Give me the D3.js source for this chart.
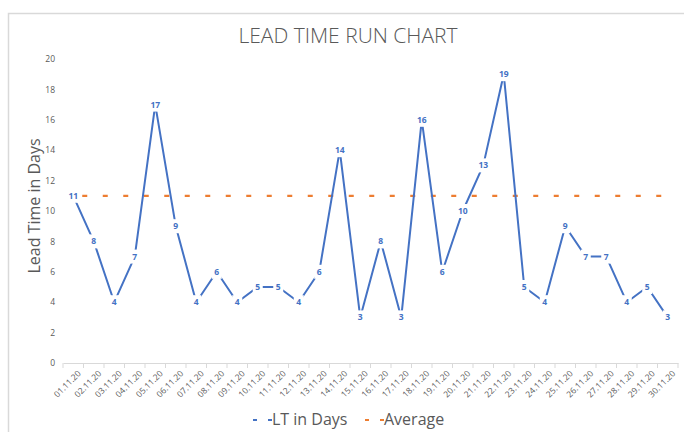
<!DOCTYPE html>
<html>
<head>
<meta charset="utf-8">
<script src="https://cdn.jsdelivr.net/npm/d3@7"></script>
<style>
  body{margin:0;background:#fff;}
  svg{display:block;font-family:"Open Sans",sans-serif;}
</style>
</head>
<body>
<svg id="chart" width="684" height="432"></svg>
<script>
// data
var days=['01.11.20','02.11.20','03.11.20','04.11.20','05.11.20','06.11.20','07.11.20','08.11.20','09.11.20','10.11.20',
  '11.11.20','12.11.20','13.11.20','14.11.20','15.11.20','16.11.20','17.11.20','18.11.20','19.11.20','20.11.20',
  '21.11.20','22.11.20','23.11.20','24.11.20','25.11.20','26.11.20','27.11.20','28.11.20','29.11.20','30.11.20'];
var ltDays=[11,8,4,7,17,9,4,6,4,5,5,4,6,14,3,8,3,16,6,10,13,19,5,4,9,7,7,4,5,3];
var average=[11,11,11,11,11,11,11,11,11,11,11,11,11,11,11,11,11,11,11,11,11,11,11,11,11,11,11,11,11,11];
var yTicks=[0,2,4,6,8,10,12,14,16,18,20];

var blue='#4472C4', orange='#ED7D31', grey='#595959';
var svg=d3.select('#chart');

// chart frame
svg.append('rect').attr('x',8.5).attr('y',13.5).attr('width',700).attr('height',440)
  .attr('fill','#fff').attr('stroke','#d9d9d9').attr('stroke-width',1.5);

var x=d3.scaleBand().domain(days).range([63,678]);
var y=d3.scaleLinear().domain([0,20]).range([363,59]);

// title
svg.append('text').attr('x',348).attr('y',43).attr('text-anchor','middle')
  .attr('font-size',21).attr('fill',grey).attr('font-weight',300).text('LEAD TIME RUN CHART');

// y axis label
svg.append('text').attr('transform','translate(40,206) rotate(-90)').attr('text-anchor','middle')
  .attr('font-size',16).attr('fill',grey).text('Lead Time in Days');

// y axis (labels only)
var yAx=svg.append('g').attr('transform','translate(55,0)')
  .call(d3.axisLeft(y).tickValues(yTicks).tickSize(0).tickPadding(0));
yAx.select('.domain').remove();
yAx.selectAll('text').attr('font-size',8.5).style('fill',grey).attr('font-family','"Open Sans",sans-serif');

// x axis
var xAx=svg.append('g').attr('transform','translate(0,363)')
  .call(d3.axisBottom(x).tickSizeOuter(0).tickSize(0));
xAx.select('.domain').attr('stroke','#d9d9d9');
xAx.selectAll('.tick text').attr('font-size',8.5).style('fill',grey)
  .attr('font-family','"Open Sans",sans-serif')
  .attr('text-anchor','end').attr('dy',0)
  .attr('transform','translate(6,9) rotate(-45)');
// tick marks on category boundaries
var bounds=days.map(function(d){return x(d);}).concat([x.range()[1]]);
xAx.selectAll('.bnd').data(bounds).enter().append('line').attr('class','bnd')
  .attr('x1',function(d){return d;}).attr('x2',function(d){return d;})
  .attr('y1',0).attr('y2',5).attr('stroke','#d9d9d9');

var cx=function(d,i){return x(days[i])+x.bandwidth()/2;};

// average line
var avgLine=d3.line().x(function(d,i){return cx(d,i);}).y(function(d){return y(d);});
svg.append('path').datum(average).attr('d',avgLine).attr('fill','none')
  .attr('stroke',orange).attr('stroke-width',2.2)
  .attr('stroke-dasharray','5,'+(x.bandwidth()-5)).attr('stroke-dashoffset',x.bandwidth()-9);

// LT line
svg.append('path').datum(ltDays).attr('d',avgLine).attr('fill','none')
  .attr('stroke',blue).attr('stroke-width',2).attr('stroke-linejoin','round');

// data labels with white boxes that hide the line
var lab=svg.selectAll('.lab').data(ltDays).enter().append('g').attr('class','lab')
  .attr('transform',function(d,i){return 'translate('+cx(d,i)+','+y(d)+')';});
lab.append('rect').attr('x',function(d){return d>9?-8:-5;}).attr('y',-7)
  .attr('width',function(d){return d>9?16:10;}).attr('height',14).attr('fill','#fff');
lab.append('text').attr('text-anchor','middle').attr('dy','0.35em')
  .attr('font-size',8.5).attr('font-weight','bold').attr('fill',blue).text(function(d){return d;});

// legend
var legend=[{name:'LT in Days',c:blue,x:253},{name:'Average',c:orange,x:365}];
var lg=svg.selectAll('.lg').data(legend).enter().append('g').attr('class','lg')
  .attr('transform',function(d){return 'translate('+d.x+',0)';});
lg.append('line').attr('x1',0).attr('x2',4).attr('y1',420).attr('y2',420)
  .attr('stroke',function(d){return d.c;}).attr('stroke-width',2);
lg.append('line').attr('x1',15).attr('x2',19).attr('y1',420).attr('y2',420)
  .attr('stroke',function(d){return d.c;}).attr('stroke-width',2);
lg.append('text').attr('x',19).attr('y',425).attr('font-size',16).attr('fill',grey)
  .text(function(d){return d.name;});
</script>
</body>
</html>
